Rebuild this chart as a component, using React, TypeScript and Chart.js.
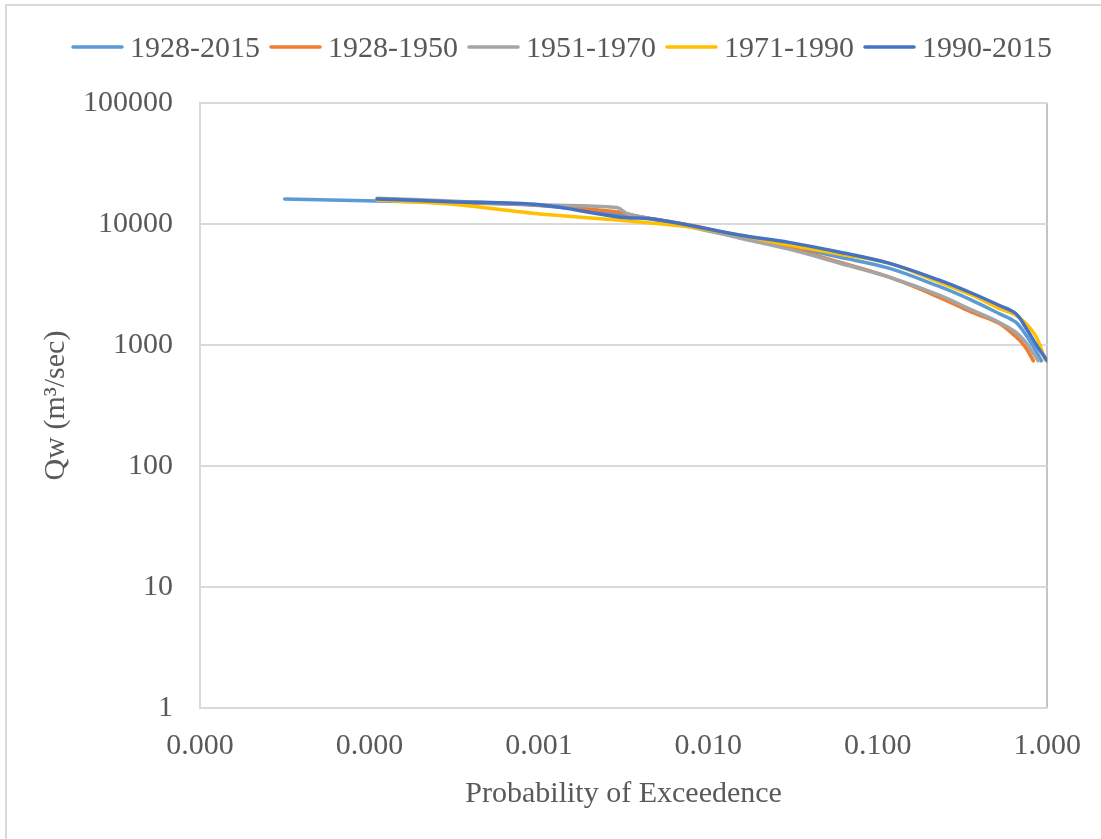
import React, { useEffect, useRef } from "react";
import { Chart, registerables } from "chart.js";

Chart.register(...registerables);

// Flow-duration curves: exceedance probability vs. discharge, by period
const seriesLabels = ["1928-2015", "1928-1950", "1951-1970", "1971-1990", "1990-2015"];
const seriesColors = ["#5B9BD5", "#ED7D31", "#A5A5A5", "#FFC000", "#4472C4"];

const prob1928_2015 = [3.16e-5, 1.11e-4, 3.0e-4, 1.01e-3, 2.88e-3, 5.15e-3, 1.52e-2, 2.99e-2, 5.9e-2, 0.116, 0.2286, 0.357, 0.515, 0.649, 0.743, 0.828, 0.923];
const flow1928_2015 = [16100, 15500, 15000, 14200, 12100, 10800, 7950, 6550, 5330, 4320, 3060, 2350, 1830, 1550, 1230, 970, 740];

const prob1928_1950 = [1.11e-4, 3.0e-4, 1.01e-3, 2.88e-3, 3.93e-3, 7.73e-3, 1.52e-2, 2.99e-2, 5.9e-2, 0.116, 0.2286, 0.357, 0.515, 0.649, 0.743, 0.828];
const flow1928_1950 = [16100, 15200, 14300, 12600, 11500, 9800, 7900, 6350, 4850, 3650, 2490, 1870, 1520, 1180, 960, 740];

const prob1951_1970 = [1.11e-4, 3.0e-4, 1.01e-3, 2.88e-3, 3.3e-3, 3.57e-3, 7.73e-3, 1.52e-2, 2.99e-2, 5.9e-2, 0.116, 0.2286, 0.357, 0.515, 0.649, 0.743, 0.885];
const flow1951_1970 = [16300, 15500, 14400, 13700, 12200, 11800, 9500, 7660, 6200, 4760, 3650, 2590, 1950, 1550, 1280, 1060, 740];

const prob1971_1990 = [1.11e-4, 3.0e-4, 7.03e-4, 1.01e-3, 2.88e-3, 3.93e-3, 7.73e-3, 1.52e-2, 2.99e-2, 5.9e-2, 0.116, 0.2286, 0.357, 0.515, 0.649, 0.743, 0.86, 0.973];
const flow1971_1990 = [15800, 14600, 12800, 12100, 10800, 10400, 9450, 8110, 6700, 5650, 4750, 3320, 2590, 2020, 1770, 1520, 1170, 752];

const prob1990_2015 = [1.11e-4, 3.0e-4, 1.01e-3, 2.88e-3, 5.15e-3, 1.52e-2, 2.99e-2, 5.9e-2, 0.116, 0.2286, 0.357, 0.515, 0.649, 0.743, 0.87, 1.0];
const flow1990_2015 = [16100, 15300, 14400, 11500, 10800, 8110, 7050, 5870, 4750, 3450, 2690, 2140, 1830, 1410, 980, 740];

const seriesProbs = [prob1928_2015, prob1928_1950, prob1951_1970, prob1971_1990, prob1990_2015];
const seriesFlows = [flow1928_2015, flow1928_1950, flow1951_1970, flow1971_1990, flow1990_2015];

const xTickValues = [0.00001, 0.0001, 0.001, 0.01, 0.1, 1];
const yTickValues = [1, 10, 100, 1000, 10000, 100000];

const xTitle = "Probability of Exceedence";
const yTitle = "Qw (m³/sec)";

const FONT = "'Liberation Serif', 'Times New Roman', serif";
const TEXT_COLOR = "#595959";
const GRID_COLOR = "#d9d9d9";

// Horizontal legend: short line swatch followed by the period label
const lineLegend = {
  id: "lineLegend",
  afterDraw(chart: any) {
    const ctx = chart.ctx as CanvasRenderingContext2D;
    const swatch = 51;
    const gapText = 7;
    const gapItem = 10;
    const centerX = 562;
    const lineY = 47;
    const baseY = 57;
    ctx.save();
    ctx.font = `30px ${FONT}`;
    const items = chart.data.datasets.map((ds: any) => ({
      text: ds.label as string,
      color: ds.borderColor as string,
      w: ctx.measureText(ds.label).width,
    }));
    const total =
      items.reduce((s: number, it: any) => s + swatch + gapText + it.w, 0) + gapItem * (items.length - 1);
    let x = centerX - total / 2;
    for (const it of items) {
      ctx.strokeStyle = it.color;
      ctx.lineWidth = 3.5;
      ctx.lineCap = "round";
      ctx.beginPath();
      ctx.moveTo(x + 1, lineY);
      ctx.lineTo(x + swatch - 1, lineY);
      ctx.stroke();
      ctx.fillStyle = TEXT_COLOR;
      ctx.textAlign = "left";
      ctx.textBaseline = "alphabetic";
      ctx.fillText(it.text, x + swatch + gapText, baseY);
      x += swatch + gapText + it.w + gapItem;
    }
    ctx.restore();
  },
};

export default function App() {
  const canvasRef = useRef<HTMLCanvasElement | null>(null);

  useEffect(() => {
    if (!canvasRef.current) return;
    const datasets = seriesLabels.map((label, i) => ({
      label,
      data: seriesProbs[i].map((p, j) => ({ x: p, y: seriesFlows[i][j] })),
      borderColor: seriesColors[i],
      backgroundColor: seriesColors[i],
      borderWidth: 3.5,
      pointRadius: 0,
      tension: 0.35,
      borderCapStyle: "round" as const,
      borderJoinStyle: "round" as const,
      fill: false,
      order: seriesLabels.length - 1 - i,
    }));

    const chart = new Chart(canvasRef.current, {
      type: "line",
      data: { datasets },
      plugins: [lineLegend],
      options: {
        animation: false,
        responsive: false,
        layout: { padding: { top: 103, right: 50, bottom: 0, left: 0 } },
        plugins: {
          legend: { display: false },
          tooltip: { enabled: false },
        },
        scales: {
          x: {
            type: "logarithmic",
            min: 0.00001,
            max: 1,
            afterBuildTicks: (scale: any) => {
              scale.ticks = xTickValues.map((v) => ({ value: v }));
            },
            afterFit: (scale: any) => {
              scale.height = 131;
            },
            ticks: {
              autoSkip: false,
              maxRotation: 0,
              padding: 20,
              color: TEXT_COLOR,
              font: { family: FONT, size: 30 },
              callback: (v: any) => Number(v).toFixed(3),
            },
            grid: {
              drawTicks: false,
              lineWidth: 2,
              color: (c: any) =>
                c.index === 0 ? GRID_COLOR : c.index === xTickValues.length - 1 ? "#c4c4c4" : "rgba(0,0,0,0)",
            },
            border: { display: true, color: GRID_COLOR, width: 2 },
            title: {
              display: true,
              text: xTitle,
              color: TEXT_COLOR,
              font: { family: FONT, size: 30 },
              padding: { top: 0, bottom: 27 },
            },
          },
          y: {
            type: "logarithmic",
            min: 1,
            max: 100000,
            afterBuildTicks: (scale: any) => {
              scale.ticks = yTickValues.map((v) => ({ value: v }));
            },
            afterFit: (scale: any) => {
              scale.width = 200;
            },
            ticks: {
              autoSkip: false,
              padding: 27,
              color: TEXT_COLOR,
              font: { family: FONT, size: 30 },
              callback: (v: any) => String(Math.round(Number(v))),
            },
            grid: { drawTicks: false, lineWidth: 2, color: GRID_COLOR },
            border: { display: true, color: GRID_COLOR, width: 2 },
            title: {
              display: true,
              text: yTitle,
              color: TEXT_COLOR,
              font: { family: FONT, size: 30 },
              padding: { top: 38, bottom: 0 },
            },
          },
        },
      },
    });
    return () => chart.destroy();
  }, []);

  return (
    <div
      style={{
        position: "absolute",
        left: 0,
        top: 0,
        width: 1101,
        height: 839,
        overflow: "hidden",
        background: "#ffffff",
      }}
    >
      <div
        style={{
          position: "absolute",
          left: 5,
          top: 4,
          width: 1200,
          height: 1000,
          borderLeft: "2px solid #d9d9d9",
          borderTop: "2px solid #d9d9d9",
        }}
      />
      <canvas
        ref={canvasRef}
        width={1101}
        height={839}
        style={{ position: "absolute", left: 0, top: 0, display: "block" }}
      />
    </div>
  );
}
